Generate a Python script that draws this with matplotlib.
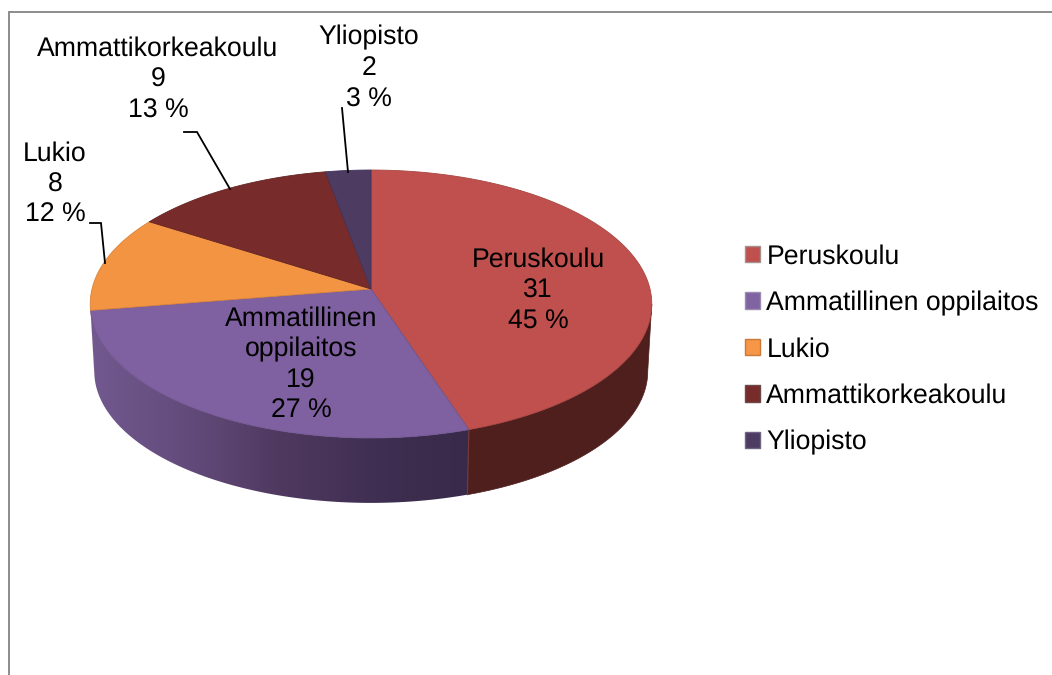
import numpy as np
import matplotlib
matplotlib.use("Agg")
import matplotlib.pyplot as plt
from matplotlib.colors import LinearSegmentedColormap
from matplotlib.patches import Patch, Polygon

categories = ["Peruskoulu", "Ammatillinen oppilaitos", "Lukio", "Ammattikorkeakoulu", "Yliopisto"]
values = [31, 19, 8, 9, 2]
percent_labels = ["45 %", "27 %", "12 %", "13 %", "3 %"]
label_names = ["Peruskoulu", "Ammatillinen\noppilaitos", "Lukio", "Ammattikorkeakoulu", "Yliopisto"]

top_colors = ["#bf504d", "#7f60a0", "#f39443", "#772b2a", "#4d3b62"]
edge_colors = ["#a84643", "#6f5590", "#d9833b", "#652422", "#41325a"]
legend_colors = ["#c0504d", "#8064a2", "#f79646", "#772b2a", "#4d3b62"]
legend_edges = ["#a5908f", "#9a8bb0", "#c9793a", "#6a4a48", "#6f6482"]

plt.rcParams["font.family"] = ["Liberation Sans", "DejaVu Sans"]
plt.rcParams["text.hinting"] = "no_hinting"
FONT = 19.2
W, H = 1052, 675
fig = plt.figure(figsize=(W / 100, H / 100), dpi=100)
ax = fig.add_axes([0, 0, 1, 1])
ax.axis("off")

PERSPECTIVE = 0.112


def project(theta, cy, rx, b, k=PERSPECTIVE, cx=371):
    """Perspective view of a circle; theta runs clockwise from the top."""
    u, v = np.sin(theta), np.cos(theta)
    d = 1 + k * v
    return cx + rx * u / d, cy - b * v / d


TOP = dict(cy=289, rx=279, b=132.3)
BOTTOM = dict(cy=356.5, rx=275, b=130)

shares = np.array(values) / sum(values)
bounds = np.concatenate([[0], np.cumsum(shares)]) * 2 * np.pi

# The wall is visible between the two points where the rim is widest
wall_start = np.arccos(-PERSPECTIVE)
wall_end = 2 * np.pi - wall_start

# side walls: flat dark red, and a horizontal gradient for the purple one
wall_cmap = LinearSegmentedColormap.from_list(
    "wall", ["#72598f", "#634c7c", "#50395f", "#3f2f52", "#382a4a"])
for i in range(len(values)):
    lo, hi = max(bounds[i], wall_start), min(bounds[i + 1], wall_end)
    if hi <= lo:
        continue
    t = np.linspace(lo, hi, 300)
    xt, yt = project(t, **TOP)
    xb, yb = project(t, **BOTTOM)
    pts = np.column_stack([np.r_[xt, xb[::-1]], np.r_[yt, yb[::-1]]])
    if i == 0:
        ax.add_patch(Polygon(pts, closed=True, facecolor="#4f1f1e", edgecolor="#4f1f1e", lw=0.5, zorder=1))
    elif i == 1:
        clip = Polygon(pts, closed=True, facecolor="none", edgecolor="none", transform=ax.transData)
        ax.add_patch(clip)
        img = ax.imshow(np.linspace(0, 1, 400).reshape(1, -1), cmap=wall_cmap, aspect="auto",
                        extent=(xb.min() - 6, xt.max() + 1, 520, 280), zorder=1, interpolation="bilinear")
        img.set_clip_path(clip)
    else:
        ax.add_patch(Polygon(pts, closed=True, facecolor="#b9834f", edgecolor="none", zorder=1))

ax.set_xlim(0, W)
ax.set_ylim(H, 0)

# seam between the two visible walls
xs0, ys0 = project(bounds[1], **TOP)
xs1, ys1 = project(bounds[1], **BOTTOM)
ax.plot([xs0, xs1], [ys0, ys1], color="#7a3a38", lw=0.8, zorder=1.5)

# top faces
for i in range(len(values)):
    t = np.linspace(bounds[i], bounds[i + 1], 200)
    x, y = project(t, **TOP)
    pts = np.column_stack([np.r_[371, x], np.r_[TOP["cy"], y]])
    ax.add_patch(Polygon(pts, closed=True, facecolor=top_colors[i],
                         edgecolor=edge_colors[i], lw=0.6, zorder=2))

# data labels
label_pos = [(538, 291), (301, 365), (55, 184.5), (158, 79.5), (369, 68.5)]
for i, (px, py) in enumerate(label_pos):
    ax.text(px, py, f"{label_names[i]}\n{values[i]}\n{percent_labels[i]}",
            ha="center", va="center", fontsize=FONT, color="black",
            linespacing=1.29, zorder=4)

# leader lines
leaders = [[(90, 223), (101, 223), (105, 263)],
           [(184, 132), (197, 132), (230, 189)],
           [(342, 108), (348, 172)]]
for pts in leaders:
    lx, ly = zip(*pts)
    ax.plot(lx, ly, color="black", lw=1.3, zorder=3, solid_joinstyle="miter")

# chart frame, cut by the image on the right and bottom
ax.plot([8.5, 8.5, W], [H, 12, 12], color="#8c8c8c", lw=1.4, zorder=0, solid_joinstyle="miter")

# legend
handles = [Patch(facecolor=c, edgecolor=e, lw=1.0) for c, e in zip(legend_colors, legend_edges)]
ax.legend(handles, categories, loc="center left", bbox_to_anchor=(745 / W, 1 - 349.5 / H),
          frameon=False, fontsize=FONT, handlelength=0.56, handleheight=0.56,
          handletextpad=0.24, labelspacing=0.8, borderpad=0, borderaxespad=0)

fig.savefig("out.png", dpi=100)
